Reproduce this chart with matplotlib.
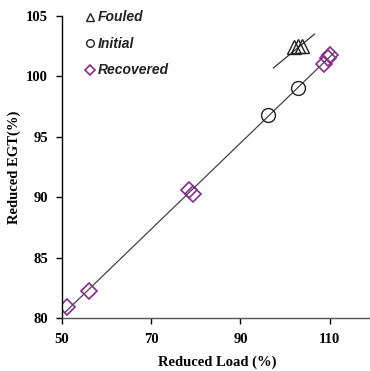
import numpy as np
import matplotlib.pyplot as plt

# reduced load (%) / reduced EGT (%) for each compressor condition
fouled_load = [102.0, 103.0, 103.7]
fouled_egt = [102.4, 102.5, 102.5]
initial_load = [96.1, 103.0]
initial_egt = [96.8, 99.0]
recovered_load = [51.2, 56.1, 78.4, 79.4, 108.7, 109.6, 110.0]
recovered_egt = [80.9, 82.2, 90.6, 90.3, 101.0, 101.5, 101.8]

# trend drawn through the fouled points
fouled_trend_load = [97.4, 106.6]
fouled_trend_egt = [100.7, 103.5]

x_ticks = [50, 70, 90, 110]
y_ticks = [80, 85, 90, 95, 100, 105]

fig = plt.figure(figsize=(3.70, 3.71), dpi=100)
ax = fig.add_axes([62 / 370, 1 - 318 / 371, 310 / 370, 302 / 371])

# trend line through the clean-engine points
clean_x = np.array(initial_load + recovered_load)
clean_y = np.array(initial_egt + recovered_egt)
slope, icpt = np.polyfit(clean_x, clean_y, 1)
xs = np.array([50.7, 111.1])
ax.plot(xs, slope * xs + icpt, color="#444444", lw=0.9, zorder=1)
ax.plot(fouled_trend_load, fouled_trend_egt, color="#333333", lw=0.9, zorder=1)

ax.plot(fouled_load, fouled_egt, ls="none", marker="^", ms=10.5, mfc="none",
        mec="#222222", mew=1.0, label="Fouled")
ax.plot(initial_load, initial_egt, ls="none", marker="o", ms=10, mfc="none",
        mec="#222222", mew=1.0, label="Initial")
ax.plot(recovered_load, recovered_egt, ls="none", marker="D", ms=8.5, mfc="none",
        mec="#8a2a8e", mew=1.2, label="Recovered")

ax.set_xlim(50, 119.5)
ax.set_ylim(80, 105)
ax.set_xticks(x_ticks)
ax.set_yticks(y_ticks)

for s in ["top", "right"]:
    ax.spines[s].set_visible(False)
ax.spines["left"].set_linewidth(1.0)
ax.spines["bottom"].set_linewidth(1.0)
ax.spines["bottom"].set_color("#555555")
ax.tick_params(direction="out", length=4, width=1.0)
ax.tick_params(axis="x", pad=7)
ax.tick_params(axis="y", pad=6)

serif = {"family": "Liberation Serif", "weight": "bold"}
for lab in ax.get_xticklabels() + ax.get_yticklabels():
    lab.set_fontfamily("Liberation Serif")
    lab.set_fontweight("bold")
    lab.set_fontsize(10.5)

ax.set_xlabel("Reduced Load (%)", fontdict=serif, fontsize=10.5, labelpad=7)
ax.set_ylabel("Reduced EGT(%)", fontdict=serif, fontsize=10.5, labelpad=4)

leg = ax.legend(loc="upper left", bbox_to_anchor=(0.04, 1.06), frameon=False,
                markerscale=0.55, handlelength=0.5, handletextpad=0.3,
                labelspacing=0.9,
                prop={"family": "Liberation Sans", "style": "italic",
                      "weight": "bold", "size": 10})
for t in leg.get_texts():
    t.set_color("#222222")

fig.savefig("out.png", dpi=100)
